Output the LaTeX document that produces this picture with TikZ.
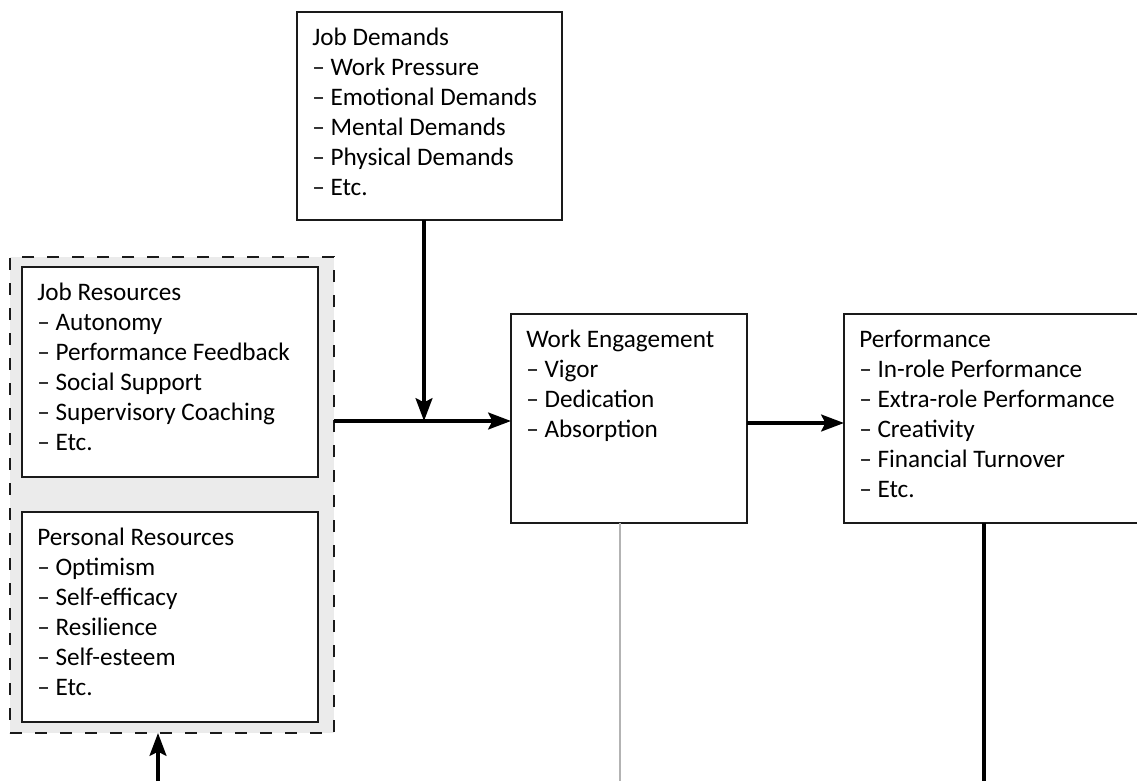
\documentclass[tikz,border=0pt]{standalone}
\usepackage{fontspec}
\setmainfont{Carlito}
\usetikzlibrary{arrows.meta}
\definecolor{boxline}{HTML}{1A1A1A}
\definecolor{contfill}{HTML}{EBEBEB}
\definecolor{greyline}{HTML}{B3B3B3}
\begin{document}
\begin{tikzpicture}[x=0.75pt,y=-0.75pt,
  box/.style={draw=boxline,line width=1.5pt,fill=white,rectangle,inner sep=0pt,outer sep=0pt},
  container/.style={draw=boxline,line width=1.8pt,fill=contfill,dash pattern=on 9pt off 9.75pt,rectangle,inner sep=0pt,outer sep=0pt},
  txt/.style={anchor=north west,inner sep=0pt,align=left,font=\fontsize{18.9}{22.5}\selectfont},
  arr/.style={line width=3pt,-{Stealth[length=17pt,width=12.5pt,inset=3pt]}},
  plain/.style={line width=3pt},
  thin/.style={line width=1.5pt,greyline}]
\useasboundingbox (0,0) rectangle (1137,781);
% boxes
\node[box,minimum width=198.75pt,minimum height=156pt] (jd) at (429.5,116) {};
\node[container,minimum width=243pt,minimum height=357pt] (cont) at (172,495) {};
\node[box,minimum width=222pt,minimum height=157.5pt] (jr) at (170,372) {};
\node[box,minimum width=222pt,minimum height=157.5pt] (pr) at (170,617) {};
\node[box,minimum width=177pt,minimum height=156.75pt] (we) at (629,418.5) {};
\node[box,minimum width=222pt,minimum height=156.75pt] (perf) at (992,418.5) {};
% texts
\node[txt] (jdt) at ([xshift=11.25pt,yshift=-12pt]jd.north west) {Job Demands\\– Work Pressure\\– Emotional Demands\\– Mental Demands\\– Physical Demands\\– Etc.};
\node[txt] (jrt) at ([xshift=11.25pt,yshift=-12pt]jr.north west) {Job Resources\\– Autonomy\\– Performance Feedback\\– Social Support\\– Supervisory Coaching\\– Etc.};
\node[txt] (prt) at ([xshift=11.25pt,yshift=-12pt]pr.north west) {Personal Resources\\– Optimism\\– Self-efficacy\\– Resilience\\– Self-esteem\\– Etc.};
\node[txt] (wet) at ([xshift=11.25pt,yshift=-12pt]we.north west) {Work Engagement\\– Vigor\\– Dedication\\– Absorption};
\node[txt] (perft) at ([xshift=11.25pt,yshift=-12pt]perf.north west) {Performance\\– In-role Performance\\– Extra-role Performance\\– Creativity\\– Financial Turnover\\– Etc.};
% connectors
\coordinate (jn) at (424,421);
\coordinate (wp) at (0,423);
\coordinate (b1) at (158,781);
\coordinate (b2) at (620,781);
\coordinate (b3) at (984,781);
\draw[arr] (cont.east |- jn) -- (we.west |- jn);
\draw[arr] (jd.south -| jn) -- (jn);
\draw[arr] (we.east |- wp) -- (perf.west |- wp);
\draw[arr] (b1) -- (cont.south -| b1);
\draw[thin] (we.south -| b2) -- (b2);
\draw[plain] (perf.south -| b3) -- (b3);
\end{tikzpicture}
\end{document}
